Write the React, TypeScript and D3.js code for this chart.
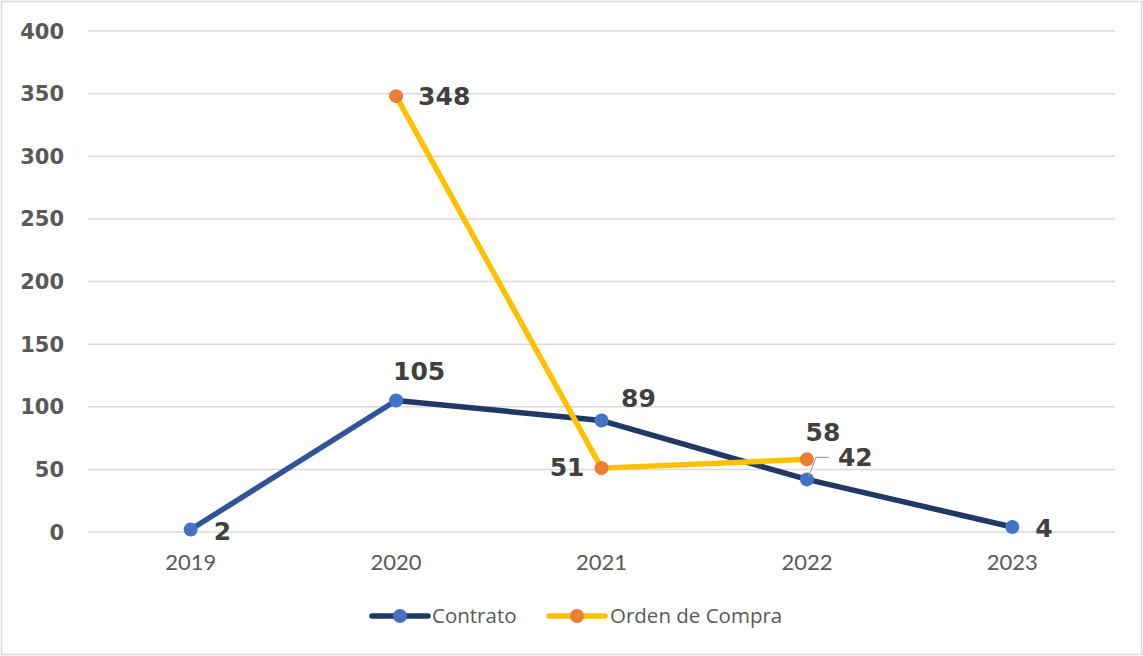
import { useMemo } from 'react';
import * as d3 from 'd3';

const years = ['2019', '2020', '2021', '2022', '2023'];
const contrato = [2, 105, 89, 42, 4];
const ordenCompra: (number | null)[] = [null, 348, 51, 58, null];
const yTicks = [0, 50, 100, 150, 200, 250, 300, 350, 400];

// per-segment colour of the Contrato line (first segment is lighter)
const contratoSegColors = ['#2F5597', '#1F3864', '#1F3864', '#1F3864'];

// label placement: dx/dy from the point, text anchor
const contratoLabels = [
  { dx: 23, dy: 2, anchor: 'start' },
  { dx: 23, dy: -29, anchor: 'middle' },
  { dx: 37, dy: -23, anchor: 'middle' },
  { dx: 31, dy: -22, anchor: 'start' },
  { dx: 23, dy: 1, anchor: 'start' },
];
const ordenLabels = [
  null,
  { dx: 22, dy: 0, anchor: 'start' },
  { dx: -17, dy: -1, anchor: 'end' },
  { dx: 16, dy: -27, anchor: 'middle' },
  null,
];

const W = 1143;
const H = 656;
const BOLD = '"DejaVu Sans", sans-serif';
const REG = 'Lato, "Noto Sans", sans-serif';

const App = () => {
  const x = useMemo(() => d3.scaleBand().domain(years).range([88, 1115]), []);
  const y = useMemo(() => d3.scaleLinear().domain([0, 400]).range([532, 31]), []);
  const cx = (yr: string) => (x(yr) ?? 0) + x.bandwidth() / 2;

  const ordenPts = years
    .map((yr, i) => ({ yr, v: ordenCompra[i], i }))
    .filter(d => d.v !== null) as { yr: string; v: number; i: number }[];
  const ordenLine = d3.line<{ yr: string; v: number }>().x(d => cx(d.yr)).y(d => y(d.v))(ordenPts);

  const p42 = { x: cx('2022'), y: y(contrato[3]) };

  return (
    <svg width={W} height={H} style={{ position: 'absolute', left: 0, top: 0, background: '#fff' }}>
      <rect x={1.5} y={1.5} width={W - 3} height={H - 3} fill="#fff" stroke="#D9D9D9" strokeWidth={1.5} />

      {yTicks.map(t => (
        <g key={t}>
          <line x1={88} x2={1115} y1={y(t)} y2={y(t)} stroke="#D9D9D9" strokeWidth={1.5} />
          <text x={64} y={y(t)} dy="0.36em" textAnchor="end" fontFamily={BOLD} fontWeight={700} fontSize={21} fill="#595959">
            {t}
          </text>
        </g>
      ))}

      {years.map(yr => (
        <text key={yr} x={cx(yr)} y={562} dy="0.36em" textAnchor="middle" fontFamily={REG} fontSize={22} fill="#595959">
          {yr}
        </text>
      ))}

      {contrato.slice(1).map((v, i) => (
        <line
          key={i}
          x1={cx(years[i])}
          y1={y(contrato[i])}
          x2={cx(years[i + 1])}
          y2={y(v)}
          stroke={contratoSegColors[i]}
          strokeWidth={5.5}
          strokeLinecap="round"
        />
      ))}
      <path d={ordenLine ?? ''} fill="none" stroke="#FFC000" strokeWidth={5.5} strokeLinejoin="round" />

      {contrato.map((v, i) => (
        <circle key={i} cx={cx(years[i])} cy={y(v)} r={7} fill="#4472C4" />
      ))}
      {ordenPts.map(d => (
        <circle key={d.yr} cx={cx(d.yr)} cy={y(d.v)} r={7} fill="#ED7D31" />
      ))}

      <polyline
        points={`${p42.x + 2},${p42.y - 3} ${p42.x + 9},${p42.y - 22} ${p42.x + 22},${p42.y - 22}`}
        fill="none"
        stroke="#A6A6A6"
        strokeWidth={1.2}
      />

      {contrato.map((v, i) => {
        const l = contratoLabels[i];
        return (
          <text key={i} x={cx(years[i]) + l.dx} y={y(v) + l.dy} dy="0.36em" textAnchor={l.anchor as any}
            fontFamily={BOLD} fontWeight={700} fontSize={25} fill="#404040">
            {v}
          </text>
        );
      })}
      {ordenPts.map(d => {
        const l = ordenLabels[d.i]!;
        return (
          <text key={d.yr} x={cx(d.yr) + l.dx} y={y(d.v) + l.dy} dy="0.36em" textAnchor={l.anchor as any}
            fontFamily={BOLD} fontWeight={700} fontSize={25} fill="#404040">
            {d.v}
          </text>
        );
      })}

      <g transform="translate(372,616)">
        <line x1={0} x2={56} stroke="#1F3864" strokeWidth={5.5} strokeLinecap="round" />
        <circle cx={28} r={7} fill="#4472C4" />
        <text x={60} dy="0.35em" fontFamily='"Open Sans", sans-serif' fontSize={20.5} fill="#595959">Contrato</text>
      </g>
      <g transform="translate(549,616)">
        <line x1={0} x2={56} stroke="#FFC000" strokeWidth={5.5} strokeLinecap="round" />
        <circle cx={28} r={7} fill="#ED7D31" />
        <text x={61} dy="0.35em" fontFamily='"Open Sans", sans-serif' fontSize={20.5} fill="#595959">Orden de Compra</text>
      </g>
    </svg>
  );
};

export default App;
